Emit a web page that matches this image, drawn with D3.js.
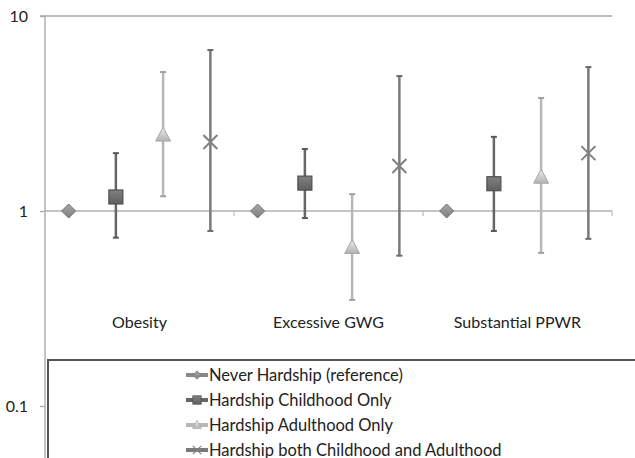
<!DOCTYPE html>
<html>
<head>
<meta charset="utf-8">
<script src="https://cdn.jsdelivr.net/npm/d3@7"></script>
<style>
  body { margin: 0; background: #fff; }
  text { font-family: Lato, "Open Sans", sans-serif; fill: #222; }
</style>
</head>
<body>
<svg id="chart" width="635" height="458"></svg>
<script>
// Data
const categories = ["Obesity", "Excessive GWG", "Substantial PPWR"];
const seriesNames = [
    "Never Hardship (reference)",
    "Hardship Childhood Only",
    "Hardship Adulthood Only",
    "Hardship both Childhood and Adulthood"
];
// odds ratios per series, one value per category
const estimates = [
    [1, 1, 1],
    [1.18, 1.39, 1.38],
    [2.45, 0.65, 1.49],
    [2.26, 1.70, 1.98]
];
const lowerCI = [
    [null, null, null],
    [0.73, 0.92, 0.79],
    [1.19, 0.35, 0.61],
    [0.79, 0.59, 0.72]
];
const upperCI = [
    [null, null, null],
    [1.98, 2.08, 2.40],
    [5.16, 1.22, 3.80],
    [6.69, 4.92, 5.47]
];
const yTicks = [0.1, 1, 10];

// Styles
const markerTypes = ["diamond", "square", "triangle", "cross"];
const markerFill = ["#8c8c8c", "#6b6b6b", "#c6c6c6", "none"];
const markerStroke = ["#6e6e6e", "#4f4f4f", "#a8a8a8", "#808080"];
const barColor = ["#888", "#666", "#b7b7b7", "#7a7a7a"];

const margin = { top: 16, left: 45, right: 23 };
const width = 635, height = 458;

const $svg = d3.select("#chart");

// Scales
const y = d3.scaleLog().domain([0.1, 10]).range([406, margin.top]);
const x = d3.scaleBand().domain(categories).range([margin.left, width - margin.right]);
const xInner = d3.scaleBand().domain(d3.range(seriesNames.length)).range([0, x.bandwidth()]);

// gradients
const defs = $svg.append("defs");
markerFill.forEach((c, i) => {
    if (c === "none") return;
    const g = defs.append("linearGradient")
        .attr("id", "grad" + i)
        .attr("x1", 0).attr("y1", 0).attr("x2", 0).attr("y2", 1);
    g.append("stop").attr("offset", "0%").attr("stop-color", d3.color(c).brighter(0.5));
    g.append("stop").attr("offset", "100%").attr("stop-color", d3.color(c).darker(0.3));
});

// Grid line at 10
$svg.append("line")
    .attr("x1", margin.left - 5).attr("x2", width - margin.right)
    .attr("y1", y(10)).attr("y2", y(10))
    .attr("stroke", "#a9a9a9").attr("stroke-width", 1.3);

// Y axis
const yAxis = d3.axisLeft(y).tickValues(yTicks).tickFormat(d3.format("")).tickSize(5).tickPadding(12);
const $yAxis = $svg.append("g")
    .attr("transform", `translate(${margin.left},0)`)
    .call(yAxis);
$yAxis.select(".domain").remove();
$yAxis.selectAll(".tick line").attr("stroke", "#a9a9a9").attr("stroke-width", 1.3);
$yAxis.selectAll(".tick text").style("font-size", "16px").attr("fill", "#222");
$svg.append("line")
    .attr("x1", margin.left).attr("x2", margin.left)
    .attr("y1", y(10)).attr("y2", height)
    .attr("stroke", "#b0b0b0").attr("stroke-width", 1.5);

// X axis at 1
$svg.append("line")
    .attr("x1", margin.left).attr("x2", width - margin.right)
    .attr("y1", y(1)).attr("y2", y(1))
    .attr("stroke", "#b0b0b0").attr("stroke-width", 1.5);
$svg.append("g").selectAll("line")
    .data(categories)
    .join("line")
    .attr("x1", d => x(d) + x.bandwidth())
    .attr("x2", d => x(d) + x.bandwidth())
    .attr("y1", y(1)).attr("y2", y(1) + 5)
    .attr("stroke", "#b0b0b0").attr("stroke-width", 1);

// Category labels
$svg.append("g").selectAll("text")
    .data(categories)
    .join("text")
    .attr("x", d => x(d) + x.bandwidth() / 2)
    .attr("y", 328)
    .attr("text-anchor", "middle")
    .style("font-size", "16px")
    .text(d => d);

function drawMarker(sel, type, i) {
    if (type === "diamond") {
        sel.append("path").attr("d", "M0,-7L7,0L0,7L-7,0Z")
            .attr("fill", `url(#grad${i})`).attr("stroke", markerStroke[i]).attr("stroke-width", 1);
    } else if (type === "square") {
        sel.append("rect").attr("x", -7).attr("y", -7).attr("width", 14).attr("height", 14)
            .attr("fill", `url(#grad${i})`).attr("stroke", markerStroke[i]).attr("stroke-width", 1.2);
    } else if (type === "triangle") {
        sel.append("path").attr("d", "M0,-8L7.5,6L-7.5,6Z")
            .attr("fill", `url(#grad${i})`).attr("stroke", markerStroke[i]).attr("stroke-width", 1);
    } else {
        sel.append("path").attr("d", "M-7,-7L7,7M-7,7L7,-7")
            .attr("stroke", markerStroke[i]).attr("stroke-width", 2).attr("fill", "none");
    }
}

// Series
seriesNames.forEach((name, s) => {
    const pts = categories.map((c, j) => ({
        cx: x(c) + xInner(s) + xInner.bandwidth() / 2,
        est: estimates[s][j],
        lo: lowerCI[s][j],
        hi: upperCI[s][j]
    }));
    const $g = $svg.append("g");
    // error bars
    const bars = pts.filter(p => p.lo !== null);
    $g.selectAll("line.bar")
        .data(bars)
        .join("line")
        .attr("class", "bar")
        .attr("x1", d => d.cx).attr("x2", d => d.cx)
        .attr("y1", d => y(d.lo)).attr("y2", d => y(d.hi))
        .attr("stroke", barColor[s]).attr("stroke-width", 2.5);
    ["lo", "hi"].forEach(k => {
        $g.selectAll("line.cap" + k)
            .data(bars)
            .join("line")
            .attr("class", "cap" + k)
            .attr("x1", d => d.cx - 3).attr("x2", d => d.cx + 3)
            .attr("y1", d => y(d[k])).attr("y2", d => y(d[k]))
            .attr("stroke", d3.color(barColor[s]).darker(0.4)).attr("stroke-width", 2);
    });
    // markers
    $g.selectAll("g.m")
        .data(pts)
        .join("g")
        .attr("class", "m")
        .attr("transform", d => `translate(${d.cx},${y(d.est)})`)
        .each(function () { drawMarker(d3.select(this), markerTypes[s], s); });
});

// Legend
$svg.append("rect")
    .attr("x", 48).attr("y", 360)
    .attr("width", 700).attr("height", 200)
    .attr("fill", "#fff").attr("stroke", "#555").attr("stroke-width", 2);

const $legend = $svg.append("g").selectAll("g")
    .data(seriesNames)
    .join("g")
    .attr("transform", (d, i) => `translate(197,${375 + i * 25})`);
$legend.append("line")
    .attr("x1", -11).attr("x2", 11)
    .attr("stroke", (d, i) => barColor[i]).attr("stroke-width", 4);
$legend.each(function (d, i) {
    const g = d3.select(this).append("g").attr("transform", "scale(0.6)");
    drawMarker(g, markerTypes[i], i);
});
$legend.append("text")
    .attr("x", 12).attr("dy", "0.35em")
    .style("font-size", "16.5px")
    .text(d => d);
</script>
</body>
</html>
